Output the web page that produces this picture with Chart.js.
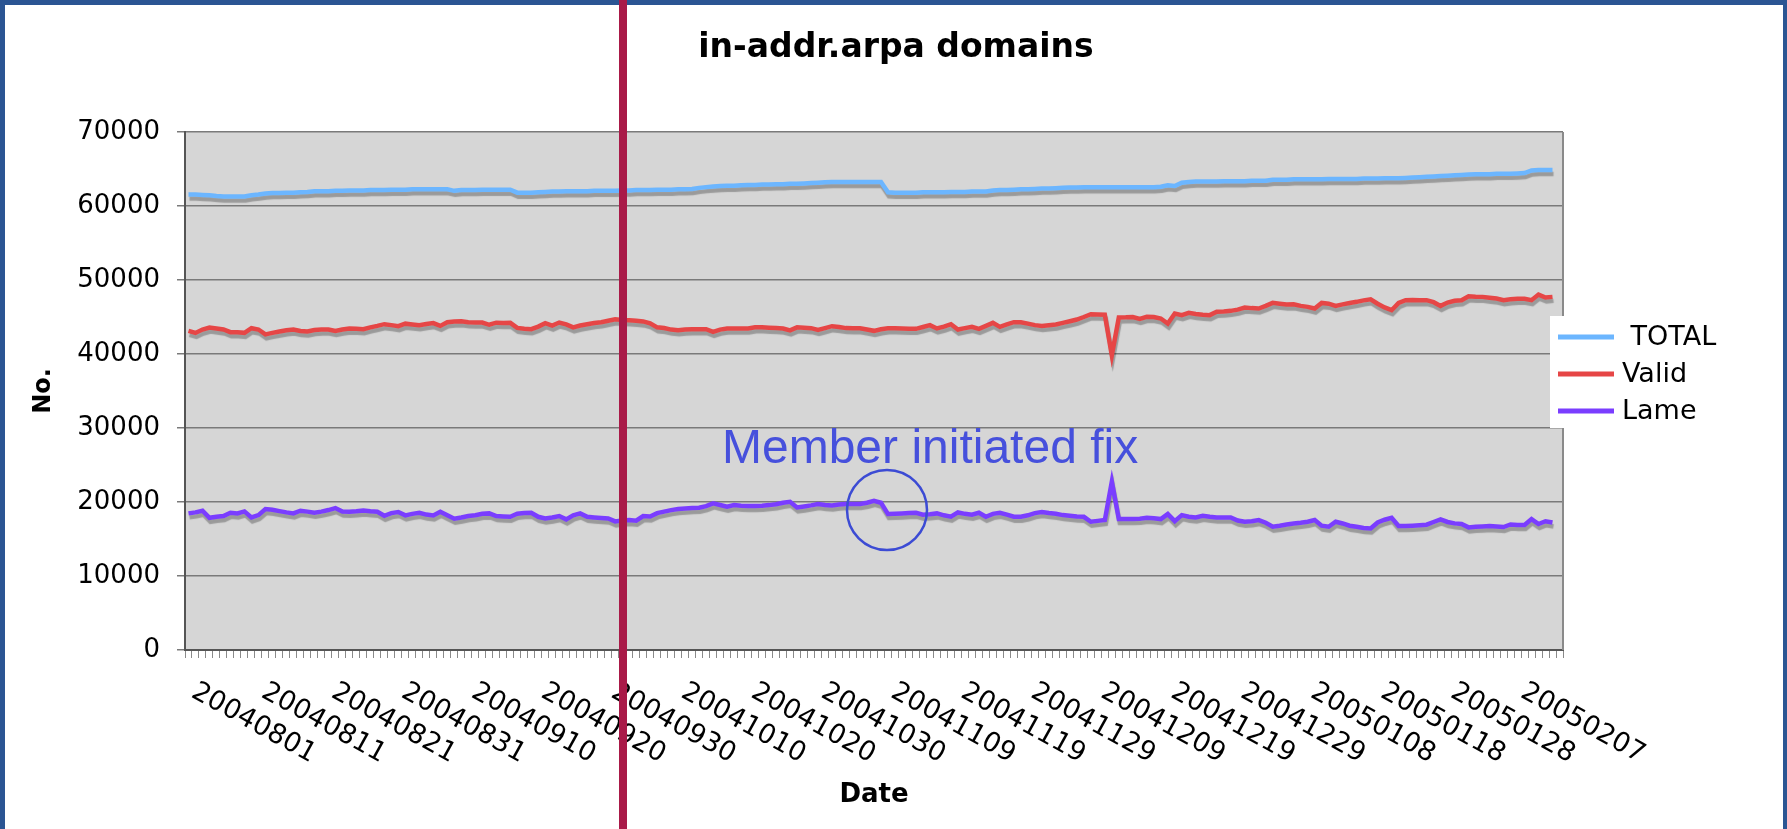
<!DOCTYPE html>
<html>
<head>
<meta charset="utf-8">
<script src="https://cdn.jsdelivr.net/npm/chart.js@4.4.1/dist/chart.umd.min.js"></script>
<style>
  html, body { margin: 0; padding: 0; background: #fff; }
  #wrap { position: relative; width: 1787px; height: 829px; overflow: hidden; }
  #c { position: absolute; left: 0; top: 0; }
  .frame { position: absolute; background: #2b5593; }
  #marker { position: absolute; left: 619px; top: 0; width: 8px; height: 829px; background: #a91a48; }
</style>
</head>
<body>
<div id="wrap">
  <canvas id="c" width="1787" height="829"></canvas>
  <div class="frame" style="left:0;top:0;width:1787px;height:5px"></div>
  <div class="frame" style="left:0;top:0;width:5px;height:829px"></div>
  <div class="frame" style="right:0;top:0;width:4px;height:829px"></div>
  <div id="marker"></div>
</div>
<script>
// --- data (one value per day from 20040801) ---
const START = new Date(2004, 7, 1);
const N_DAYS = 197;

const tickLabels = ['20040801','20040811','20040821','20040831','20040910','20040920','20040930',
  '20041010','20041020','20041030','20041109','20041119','20041129','20041209','20041219',
  '20041229','20050108','20050118','20050128','20050207'];

const total = [
  61550,61550,61500,61450,61350,61300,61300,61300,61300,61450,
  61550,61700,61750,61750,61800,61800,61850,61900,62000,62000,
  62000,62050,62050,62100,62100,62100,62150,62150,62150,62200,
  62200,62200,62250,62250,62250,62250,62250,62250,62050,62150,
  62150,62150,62200,62200,62200,62200,62200,61800,61800,61800,
  61850,61900,61950,61950,62000,62000,62000,62000,62050,62050,
  62050,62050,62100,62100,62150,62150,62150,62200,62200,62200,
  62250,62250,62300,62450,62550,62650,62700,62750,62750,62800,
  62850,62850,62900,62900,62950,62950,63000,63000,63050,63100,
  63150,63200,63250,63250,63250,63250,63250,63250,63250,63250,
  61850,61800,61800,61800,61800,61850,61850,61850,61850,61900,
  61900,61900,61950,61950,61950,62100,62150,62150,62200,62250,
  62250,62300,62350,62350,62400,62450,62500,62500,62550,62550,
  62550,62550,62550,62550,62550,62550,62550,62550,62550,62600,
  62800,62700,63150,63250,63300,63300,63300,63300,63350,63350,
  63350,63350,63400,63400,63400,63550,63550,63550,63600,63600,
  63600,63600,63600,63650,63650,63650,63650,63650,63700,63700,
  63700,63750,63750,63750,63800,63850,63900,63950,64000,64050,
  64100,64150,64200,64250,64300,64300,64300,64350,64350,64350,
  64400,64450,64800,64850,64850,64850
];

const valid = [
  43130,42850,43300,43580,43450,43310,42950,42950,42860,43490,
  43310,42650,42850,43040,43200,43310,43100,43040,43250,43310,
  43310,43100,43300,43450,43400,43350,43600,43800,44030,43900,
  43760,44100,44000,43900,44050,44170,43800,44300,44400,44430,
  44300,44250,44250,43950,44230,44200,44210,43530,43400,43350,
  43700,44170,43850,44250,44000,43600,43850,44030,44200,44300,
  44500,44700,44600,44570,44480,44400,44150,43600,43500,43300,
  43220,43300,43350,43350,43350,43000,43300,43450,43450,43450,
  43450,43600,43620,43550,43500,43450,43200,43600,43550,43490,
  43250,43500,43760,43650,43500,43490,43490,43300,43130,43350,
  43490,43490,43450,43420,43400,43650,43900,43450,43700,44030,
  43310,43500,43670,43400,43800,44210,43670,44000,44300,44300,
  44100,43900,43800,43900,43980,44200,44430,44660,45000,45380,
  45330,45300,39840,44930,44950,45000,44750,45020,45000,44800,
  44120,45470,45250,45560,45400,45300,45250,45700,45750,45830,
  46000,46280,46200,46150,46500,46910,46800,46690,46730,46500,
  46370,46150,46900,46800,46500,46700,46900,47050,47250,47400,
  46800,46300,45920,46900,47270,47300,47270,47270,47000,46500,
  46950,47200,47270,47810,47750,47720,47600,47500,47270,47400,
  47450,47450,47270,48030,47630,47720
];

const lame = [
  18460,18600,18820,17870,18000,18100,18550,18460,18730,17920,
  18230,19040,18950,18770,18600,18460,18820,18700,18550,18700,
  18910,19180,18700,18680,18750,18860,18750,18680,18140,18500,
  18640,18190,18400,18550,18300,18190,18680,18200,17740,17900,
  18100,18200,18400,18460,18100,18050,18010,18410,18500,18550,
  18000,17780,17900,18100,17650,18200,18460,18000,17920,17850,
  17780,17380,17500,17560,17470,18100,18050,18500,18700,18900,
  19040,19130,19180,19220,19450,19810,19600,19360,19580,19500,
  19450,19450,19500,19580,19700,19900,20030,19270,19400,19540,
  19720,19600,19540,19650,19720,19720,19720,19900,20170,19900,
  18370,18400,18450,18500,18550,18280,18350,18460,18200,18010,
  18590,18400,18280,18550,18010,18400,18550,18300,18010,18010,
  18200,18500,18640,18500,18400,18230,18150,18050,18000,17330,
  17450,17560,22740,17690,17690,17690,17750,17870,17800,17690,
  18370,17420,18230,18000,17920,18140,18000,17920,17920,17920,
  17500,17330,17400,17560,17200,16660,16800,16970,17100,17200,
  17330,17560,16800,16660,17330,17100,16790,16650,16500,16430,
  17240,17600,17870,16750,16750,16790,16850,16930,17300,17650,
  17300,17110,17020,16570,16660,16700,16750,16700,16620,16970,
  16880,16900,17690,17020,17400,17240
];

const seriesNames = [' TOTAL', 'Valid', 'Lame'];
const seriesColors = ['#6cb6ff', '#e64646', '#7a3dff'];

// category labels: one per day
const days = [];
for (let i = 0; i < N_DAYS; i++) {
  const d = new Date(START.getFullYear(), START.getMonth(), START.getDate() + i);
  days.push('' + d.getFullYear() + String(d.getMonth() + 1).padStart(2, '0') + String(d.getDate()).padStart(2, '0'));
}

const FONT = 'DejaVu Sans';

const refPlugin = {
  id: 'ref',
  beforeDraw(chart) {
    const { ctx, chartArea: a } = chart;
    ctx.save();
    ctx.fillStyle = '#d6d6d6';
    ctx.fillRect(a.left, a.top, a.right - a.left, a.bottom - a.top);
    ctx.restore();
  },
  beforeDatasetDraw(chart) {
    const ctx = chart.ctx;
    ctx.save();
    ctx.shadowColor = 'rgba(0,0,0,0.28)';
    ctx.shadowOffsetX = 1;
    ctx.shadowOffsetY = 4;
    ctx.shadowBlur = 1;
  },
  afterDatasetDraw(chart) {
    chart.ctx.restore();
  },
  afterDraw(chart) {
    const { ctx, chartArea: a } = chart;
    const xs = chart.scales.x;
    ctx.save();

    // right border of plot area
    ctx.strokeStyle = '#8a8a8a';
    ctx.lineWidth = 2;
    ctx.beginPath();
    ctx.moveTo(a.right, a.top);
    ctx.lineTo(a.right, a.bottom);
    ctx.stroke();

    // title
    ctx.fillStyle = '#000';
    ctx.font = 'bold 33px ' + FONT;
    ctx.textAlign = 'center';
    ctx.textBaseline = 'middle';
    ctx.fillText('in-addr.arpa domains', 896, 48);

    // slanted date labels
    ctx.font = '27px ' + FONT;
    ctx.textAlign = 'left';
    ctx.textBaseline = 'middle';
    tickLabels.forEach(lbl => {
      const px = xs.getPixelForValue(days.indexOf(lbl));
      ctx.save();
      ctx.translate(px + 5, a.bottom + 40);
      ctx.rotate(29 * Math.PI / 180);
      ctx.fillText(lbl, 0, 0);
      ctx.restore();
    });

    // legend box
    ctx.fillStyle = '#fff';
    ctx.fillRect(1550, 316, 237, 112);
    ctx.font = '27px ' + FONT;
    chart.data.datasets.forEach((ds, k) => {
      const y = 337 + k * 37;
      ctx.strokeStyle = ds.borderColor;
      ctx.lineWidth = 5;
      ctx.beginPath();
      ctx.moveTo(1558, y);
      ctx.lineTo(1614, y);
      ctx.stroke();
      ctx.fillStyle = '#000';
      ctx.fillText(ds.label, 1622, y + 1);
    });

    // annotation
    ctx.fillStyle = '#4650dc';
    ctx.font = '48px "Liberation Sans"';
    ctx.textBaseline = 'alphabetic';
    ctx.fillText('Member initiated fix', 722, 463);
    ctx.strokeStyle = '#3c4bd4';
    ctx.lineWidth = 2.5;
    ctx.beginPath();
    ctx.arc(887, 510, 40, 0, Math.PI * 2);
    ctx.stroke();

    ctx.restore();
  }
};

Chart.defaults.color = '#000';

new Chart(document.getElementById('c'), {
  type: 'line',
  data: {
    labels: days,
    datasets: [
      { label: seriesNames[0], data: total, borderColor: seriesColors[0] },
      { label: seriesNames[1], data: valid, borderColor: seriesColors[1] },
      { label: seriesNames[2], data: lame, borderColor: seriesColors[2] }
    ].map(d => Object.assign(d, { borderWidth: 4.5, pointRadius: 0, tension: 0, fill: false }))
  },
  options: {
    responsive: false,
    animation: false,
    devicePixelRatio: 1,
    layout: { padding: { left: 0, top: 132, right: 224, bottom: 0 } },
    plugins: { legend: { display: false }, tooltip: { enabled: false } },
    scales: {
      x: {
        type: 'category',
        offset: true,
        grid: { offset: true, drawOnChartArea: false, drawTicks: true, tickLength: 8, color: '#8a8a8a', lineWidth: 1 },
        border: { color: '#555', width: 2 },
        ticks: { display: false },
        title: { display: true, text: 'Date', font: { family: FONT, size: 26, weight: 'bold' }, padding: { top: 0, bottom: 18 } },
        afterFit(s) { s.height = 179; }
      },
      y: {
        min: 0,
        max: 70000,
        ticks: { stepSize: 10000, padding: 17, font: { family: FONT, size: 26 }, callback: v => String(v) },
        grid: { color: '#7a7a7a', lineWidth: 1.5, tickLength: 8 },
        border: { color: '#555', width: 2 },
        title: { display: true, text: 'No.', font: { family: FONT, size: 24, weight: 'bold' }, padding: { top: 29, bottom: 0 } },
        afterFit(s) { s.width = 185; }
      }
    }
  },
  plugins: [refPlugin]
});
</script>
</body>
</html>
